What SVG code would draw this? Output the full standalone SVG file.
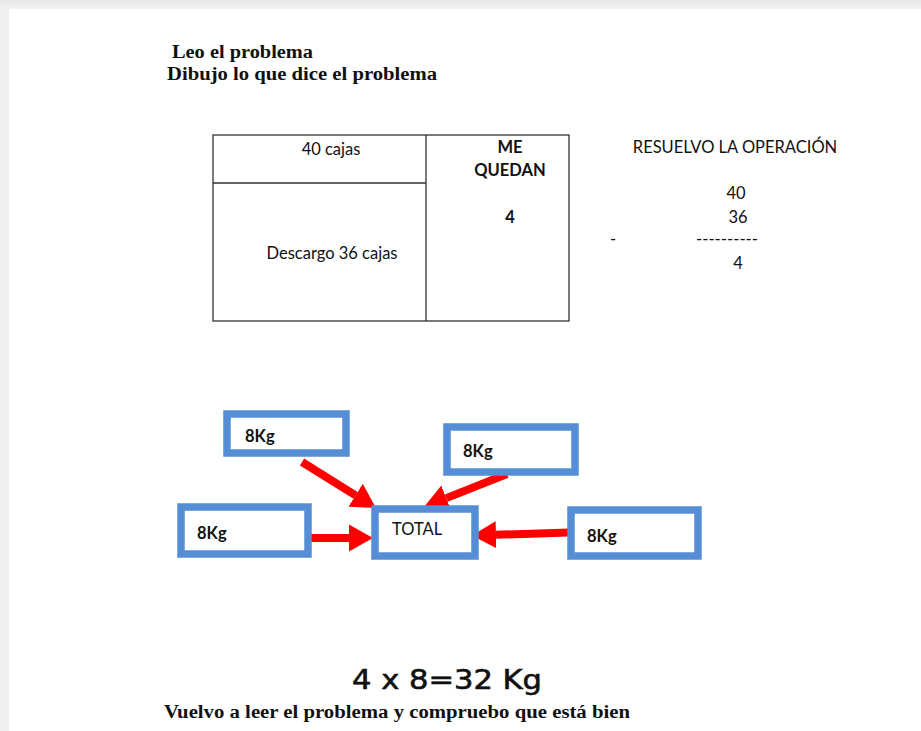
<svg xmlns="http://www.w3.org/2000/svg" width="921" height="731" viewBox="0 0 921 731">
<style>
.serif{font-family:"Liberation Serif","Times New Roman",serif;font-weight:bold;fill:#111}
.cal{font-family:Lato,"Liberation Sans",Arial,sans-serif;font-size:16.5px;fill:#111}
.b{font-weight:bold}
.cell{fill:none;stroke:#333;stroke-width:1.3}
.box{fill:#fff;stroke:#558ED5;stroke-width:7.5}
.lbl{font-family:Lato,"Liberation Sans",Arial,sans-serif;font-size:16.5px;font-weight:bold;fill:#111}
.arrow{stroke:#ff0000;stroke-width:8;fill:none}
</style>
<defs>
<linearGradient id="topg" x1="0" y1="0" x2="0" y2="1">
<stop offset="0" stop-color="#e6e6e6"/><stop offset="1" stop-color="#f2f2f2"/>
</linearGradient>
<marker id="head" markerUnits="userSpaceOnUse" markerWidth="26" markerHeight="30" viewBox="0 -15 26 30" refX="0" refY="0" orient="auto">
<path d="M0,-13.5 L24,0 L0,13.5 z" fill="#ff0000"/>
</marker>
</defs>
<rect x="0" y="0" width="921" height="731" fill="#efefef"/>
<rect x="0" y="0" width="921" height="9" fill="url(#topg)"/>
<rect x="9" y="9" width="912" height="722" fill="#ffffff"/>

<g id="headings">
<text class="serif" x="172" y="58" font-size="18" textLength="141" lengthAdjust="spacingAndGlyphs">Leo el problema</text>
<text class="serif" x="167" y="80" font-size="18" textLength="270" lengthAdjust="spacingAndGlyphs">Dibujo lo que dice el problema</text>
</g>

<g id="table">
<rect class="cell" x="213" y="135" width="356" height="186"/>
<line class="cell" x1="426" y1="135" x2="426" y2="321"/>
<line class="cell" x1="213" y1="183" x2="426" y2="183"/>
<text class="cal" x="331" y="155" text-anchor="middle">40 cajas</text>
<text class="cal" x="332" y="259" text-anchor="middle">Descargo 36 cajas</text>
<text class="cal b" x="510" y="153" text-anchor="middle">ME</text>
<text class="cal b" x="510" y="176" text-anchor="middle">QUEDAN</text>
<text class="cal b" x="510" y="223" text-anchor="middle">4</text>
</g>

<g id="operation">
<text class="cal" x="735" y="153" text-anchor="middle">RESUELVO LA OPERACIÓN</text>
<text class="cal" x="736" y="199" text-anchor="middle">40</text>
<text class="cal" x="738" y="223" text-anchor="middle">36</text>
<text class="cal" x="610" y="245">-</text>
<text class="cal" x="696" y="245" textLength="62" lengthAdjust="spacingAndGlyphs">----------</text>
<text class="cal" x="738" y="269" text-anchor="middle">4</text>
</g>

<g id="connectors">
<line class="arrow" x1="302" y1="462" x2="355.6" y2="495.3" marker-end="url(#head)"/>
<line class="arrow" x1="507" y1="474" x2="446.3" y2="498.1" marker-end="url(#head)"/>
<line class="arrow" x1="308" y1="538" x2="349" y2="538" marker-end="url(#head)"/>
<line class="arrow" x1="569" y1="532.5" x2="496" y2="534.8" marker-end="url(#head)"/>
</g>

<g id="box-top-left">
<rect class="box" x="227" y="414" width="119" height="39"/>
<text class="lbl" x="245" y="442">8Kg</text>
</g>
<g id="box-top-right">
<rect class="box" x="447" y="427" width="128" height="45"/>
<text class="lbl" x="463" y="457">8Kg</text>
</g>
<g id="box-left">
<rect class="box" x="181" y="507" width="127" height="47"/>
<text class="lbl" x="197" y="539">8Kg</text>
</g>
<g id="box-total">
<rect class="box" x="375" y="509" width="100" height="47"/>
<text class="cal" x="392" y="535" fill="#1c1c3a">TOTAL</text>
</g>
<g id="box-right">
<rect class="box" x="571" y="510" width="127" height="46"/>
<text class="lbl" x="587" y="542">8Kg</text>
</g>

<g id="footer">
<text x="352" y="689" font-family="DejaVu Sans, sans-serif" font-size="27" fill="#111" stroke="#111" stroke-width="0.6" textLength="190" lengthAdjust="spacingAndGlyphs">4 x 8=32 Kg</text>
<text class="serif" x="164" y="718" font-size="18" textLength="466" lengthAdjust="spacingAndGlyphs">Vuelvo a leer el problema y compruebo que está bien</text>
</g>
</svg>
